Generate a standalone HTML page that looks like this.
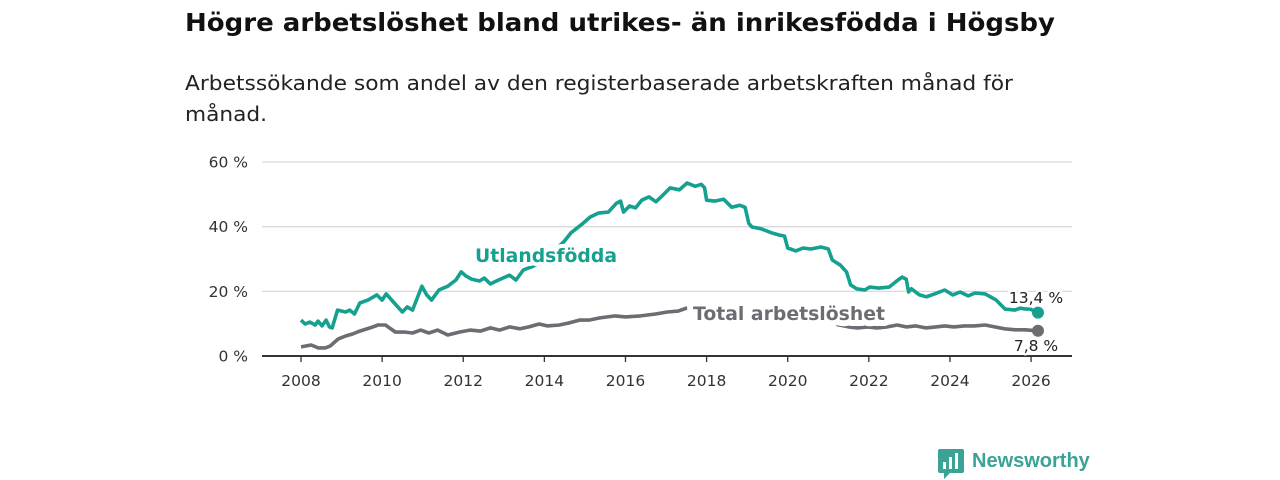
<!DOCTYPE html>
<html><head><meta charset="utf-8"><style>
body{margin:0;width:1280px;height:480px;background:#fff;font-family:"DejaVu Sans","Liberation Sans",sans-serif;overflow:hidden;position:relative}
svg{position:absolute;left:0;top:0}
</style></head><body>
<svg id="chart" width="1280" height="480">
<text x="185" y="31" font-size="25" font-weight="bold" fill="#111" textLength="870" lengthAdjust="spacingAndGlyphs">Högre arbetslöshet bland utrikes- än inrikesfödda i Högsby</text>
<text x="185" y="90" font-size="20" fill="#222" textLength="828" lengthAdjust="spacingAndGlyphs">Arbetssökande som andel av den registerbaserade arbetskraften månad för</text>
<text x="185" y="121" font-size="20" fill="#222" textLength="82" lengthAdjust="spacingAndGlyphs">månad.</text>
</svg>
<script>
const yTicks=[0,20,40,60];
const yTickLabels=["0 %","20 %","40 %","60 %"];
const xTicks=[2008,2010,2012,2014,2016,2018,2020,2022,2024,2026];
const utlYears=[2008.0,2008.1,2008.22,2008.35,2008.42,2008.52,2008.62,2008.7,2008.77,2008.9,2009.1,2009.2,2009.32,2009.45,2009.65,2009.87,2010.0,2010.1,2010.3,2010.5,2010.62,2010.75,2010.98,2011.1,2011.22,2011.4,2011.62,2011.82,2011.95,2012.07,2012.2,2012.4,2012.52,2012.67,2012.87,2013.14,2013.3,2013.48,2013.67,2013.85,2014.2,2014.5,2014.65,2014.93,2015.13,2015.33,2015.58,2015.78,2015.88,2015.95,2016.1,2016.25,2016.4,2016.58,2016.75,2016.9,2017.1,2017.33,2017.52,2017.72,2017.87,2017.95,2018.0,2018.2,2018.42,2018.62,2018.82,2018.95,2019.04,2019.12,2019.35,2019.6,2019.8,2019.92,2020.0,2020.2,2020.38,2020.57,2020.82,2021.0,2021.1,2021.3,2021.45,2021.55,2021.7,2021.9,2022.02,2022.25,2022.5,2022.72,2022.82,2022.92,2022.98,2023.05,2023.25,2023.42,2023.62,2023.87,2024.07,2024.25,2024.45,2024.62,2024.87,2025.14,2025.36,2025.6,2025.73,2025.88,2025.98,2026.17];
const utlVals=[11.1,9.9,10.5,9.6,10.8,9.3,11.1,9.0,8.7,14.2,13.6,14.2,13.0,16.4,17.3,18.9,17.3,19.2,16.4,13.6,15.2,14.2,21.6,18.9,17.3,20.4,21.6,23.5,26.0,24.7,23.8,23.2,24.1,22.3,23.5,25.0,23.5,26.6,27.5,28.5,32.0,35.6,38.0,40.8,43.0,44.2,44.5,47.3,47.9,44.5,46.4,45.8,48.2,49.2,47.7,49.5,52.0,51.4,53.5,52.5,53.1,52.0,48.2,47.9,48.5,46.0,46.6,46.0,41.0,39.9,39.3,38.1,37.4,37.1,33.4,32.5,33.4,33.1,33.7,33.1,29.7,28.1,26.0,22.0,20.8,20.4,21.3,21.0,21.3,23.5,24.4,23.8,19.8,20.8,18.9,18.3,19.2,20.4,18.9,19.8,18.6,19.5,19.2,17.3,14.5,14.2,14.8,14.5,14.5,13.4];
const totYears=[2008.0,2008.25,2008.43,2008.6,2008.72,2008.92,2009.1,2009.27,2009.45,2009.7,2009.9,2010.08,2010.33,2010.57,2010.75,2010.95,2011.15,2011.37,2011.62,2011.9,2012.17,2012.42,2012.67,2012.9,2013.14,2013.4,2013.62,2013.87,2014.07,2014.37,2014.6,2014.87,2015.1,2015.37,2015.75,2016.0,2016.37,2016.74,2017.03,2017.3,2017.5,2018.0,2018.5,2019.0,2019.5,2020.0,2020.5,2021.0,2021.5,2021.72,2021.97,2022.2,2022.45,2022.7,2022.92,2023.15,2023.4,2023.65,2023.87,2024.1,2024.35,2024.6,2024.87,2025.1,2025.35,2025.6,2025.85,2026.17];
const totVals=[2.8,3.4,2.5,2.5,3.1,5.3,6.2,6.8,7.7,8.7,9.6,9.6,7.4,7.4,7.1,8.0,7.1,8.0,6.5,7.4,8.0,7.7,8.7,8.0,9.0,8.4,9.0,9.9,9.3,9.6,10.2,11.1,11.1,11.8,12.4,12.1,12.4,13.0,13.6,13.9,14.8,14.2,13.5,12.8,12.5,12.0,11.3,10.3,9.0,8.7,9.0,8.7,9.0,9.6,9.0,9.3,8.7,9.0,9.3,9.0,9.3,9.3,9.6,9.0,8.4,8.1,8.1,7.8];
const NS='http://www.w3.org/2000/svg';
const svg=document.getElementById('chart');
const x0=262,x1=1072,yBase=356;
function X(yr){return 301+(yr-2008)*40.56;}
function Y(v){return yBase-v*3.233;}
function mk(t,a,p){const e=document.createElementNS(NS,t);for(const k in a)e.setAttribute(k,a[k]);(p||svg).appendChild(e);return e;}
yTicks.forEach((t,i)=>{
  if(t>0){const g=mk('line',{x1:x0,x2:x1,y1:Y(t),y2:Y(t),stroke:'#d9d9d9','stroke-width':1.3});
  
  }
  const l=mk('text',{x:248,y:Y(t)+5.5,'text-anchor':'end','font-size':15.5,fill:'#333'});l.textContent=yTickLabels[i];
  
  
});
const ax=mk('line',{x1:x0,x2:x1,y1:yBase,y2:yBase,stroke:'#333','stroke-width':2});


xTicks.forEach(t=>{
  mk('line',{x1:X(t),x2:X(t),y1:yBase,y2:yBase+6,stroke:'#333','stroke-width':1.3});
  const l=mk('text',{x:X(t),y:386,'text-anchor':'middle','font-size':15.5,fill:'#333'});l.textContent=t;
  
  
});
function series(ys,vs,col,name){
  const d=ys.map((y,i)=>(i?'L':'M')+X(y).toFixed(1)+','+Y(vs[i]).toFixed(1)).join('');
  const p=mk('path',{d:d,fill:'none',stroke:col,'stroke-width':3.6,'stroke-linejoin':'round'});
  
  
  const n=ys.length-1;
  const c=mk('circle',{cx:X(ys[n]),cy:Y(vs[n]),r:6,fill:col});
  
  
}
series(totYears,totVals,'#6f6b73','total');
series(utlYears,utlVals,'#16a090','utlandsfodda');
function lbl(txt,x,y,col,size,bold,name,anchor,len,halo){
  const a={x:x,y:y,'font-size':size,'font-weight':bold?'bold':'normal',fill:col,stroke:'#fff','stroke-width':halo,'paint-order':'stroke','stroke-linejoin':'round','text-anchor':anchor||'start'};
  if(len){a.textLength=len;a.lengthAdjust='spacingAndGlyphs';}
  const t=mk('text',a);
  t.textContent=txt;
  
  
}
lbl('Utlandsfödda',475,262,'#16a090',19,true,'utlandsfodda-label','start',142,8);
lbl('Total arbetslöshet',693,320,'#6f6b73',19,true,'total-label','start',192,12);
lbl('13,4 %',1036,303,'#222',15.5,false,'utlandsfodda-end-value','middle',0,5);
lbl('7,8 %',1036,351,'#222',15.5,false,'total-end-value','middle',0,5);
</script>
<div style="position:absolute;left:938px;top:449px;height:30px">
<svg width="26" height="30" style="position:absolute;left:0;top:0"><path d="M0 2 Q0 0 2 0 H24 Q26 0 26 2 V22 Q26 24 24 24 H12 L6 30 V24 H2 Q0 24 0 22Z" fill="#3aa396"/><rect x="5" y="13" width="3" height="7" fill="#fff"/><rect x="11" y="8" width="3" height="12" fill="#fff"/><rect x="17" y="4" width="3" height="16" fill="#fff"/></svg>
<span style="position:absolute;left:34px;top:1px;font-size:20px;font-weight:bold;color:#3aa396;white-space:nowrap;font-family:'Liberation Sans',sans-serif">Newsworthy</span>
</div>
</body></html>
